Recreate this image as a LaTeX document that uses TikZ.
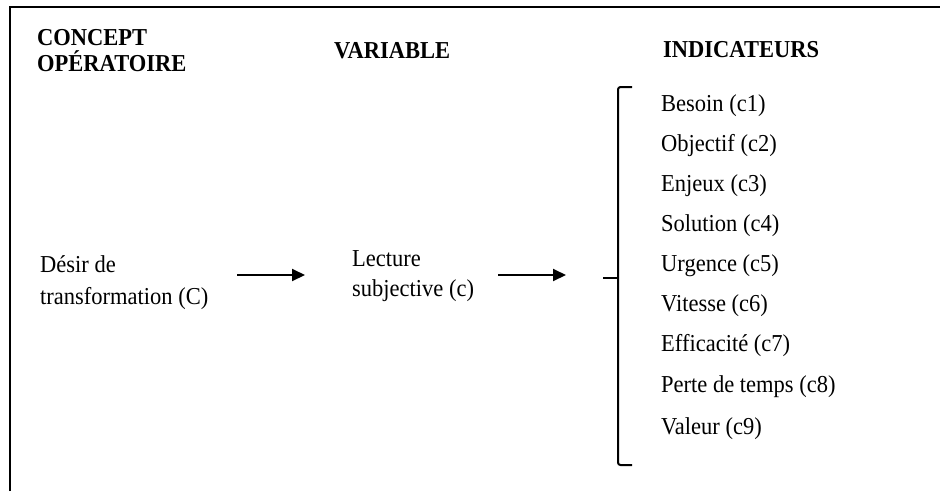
\documentclass[tikz,border=0pt]{standalone}
\usepackage{fontspec}
\setmainfont{Liberation Serif}
\usetikzlibrary{arrows.meta}
% slightly tall lettering
\newcommand{\tallbox}[1]{\scalebox{1}[1.08]{#1}}
\begin{document}
\begin{tikzpicture}[x=1pt,y=-1pt,
  txt/.style={anchor=base west,inner sep=0pt,font=\fontsize{22.5}{27}\selectfont},
  head/.style={txt,font=\fontsize{22.5}{27}\selectfont\bfseries},
  flow/.style={line width=2pt,-{Triangle[length=13pt,width=12pt]}},
  brace/.style={line width=2pt,rounded corners=2.5pt}]
\useasboundingbox (0,0) rectangle (940,491);
% frame (top and left edges)
\draw[line width=2.5pt] (10,491) -- (10,7) -- (940,7);
% column headings
\node[head] (h1a) at (37,45) {\tallbox{CONCEPT}};
\node[head] (h1b) at (37,71) {\tallbox{OPÉRATOIRE}};
\node[head] (h2) at (334,58) {\tallbox{VARIABLE}};
\node[head] (h3) at (663,57) {\tallbox{INDICATEURS}};
% concept and variable
\node[txt] (c1) at (40,272) {\tallbox{Désir de}};
\node[txt] (c2) at (40,304) {\tallbox{transformation (C)}};
\node[txt] (v1) at (352,266) {\tallbox{Lecture}};
\node[txt] (v2) at (352,296) {\tallbox{subjective (c)}};
% indicators
\foreach \t/\y [count=\i] in {Besoin (c1)/111,Objectif (c2)/151,Enjeux (c3)/191,
  Solution (c4)/231,Urgence (c5)/271,Vitesse (c6)/311,Efficacité (c7)/351,
  Perte de temps (c8)/392,Valeur (c9)/434}
  \node[txt] (i\i) at (661,\y) {\tallbox{\t}};
% arrows
\coordinate (a1s) at (237,275);
\coordinate (a1e) at (305,275);
\coordinate (a2s) at (498,275);
\coordinate (a2e) at (566,275);
\draw[flow] (a1s) -- (a1e);
\draw[flow] (a2s) -- (a2e);
% bracket
\coordinate (bt) at (632,87);
\coordinate (bb) at (632,465);
\coordinate (bm) at (603,278);
\draw[brace] (bt) -- (618,87) -- (618,465) -- (bb);
\draw[brace] (bm) -- (618,278);
\end{tikzpicture}
\end{document}
